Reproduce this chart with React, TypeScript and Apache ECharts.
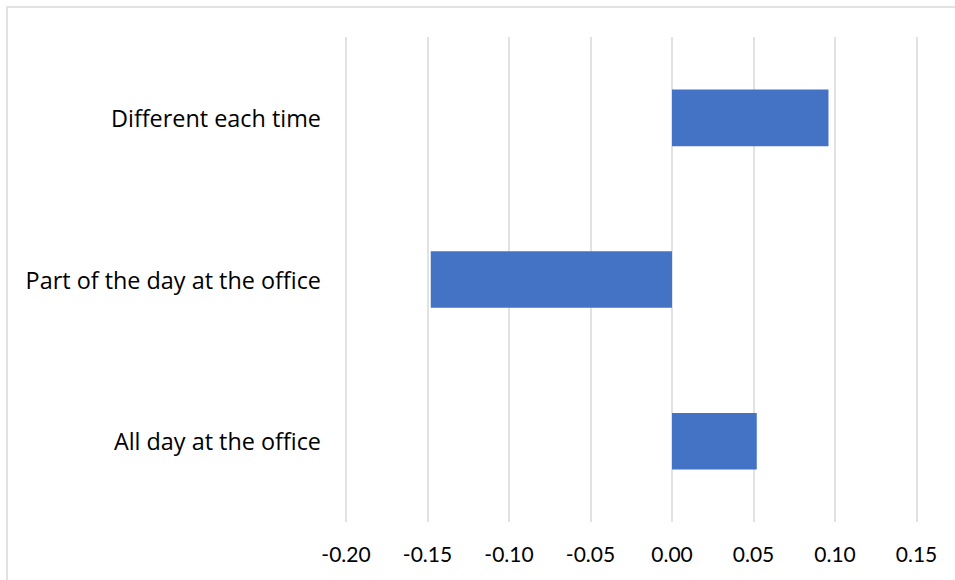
import React, { useEffect, useRef } from "react";
import * as echarts from "echarts";

const categories = ["All day at the office", "Part of the day at the office", "Different each time"];
const values = [0.052, -0.148, 0.096];
const xMin = -0.2;
const xMax = 0.15;
const xStep = 0.05;

export default function App() {
  const ref = useRef<HTMLDivElement>(null);
  useEffect(() => {
    if (!ref.current) return;
    const chart = echarts.init(ref.current, undefined, { renderer: "svg" });
    chart.setOption({
      animation: false,
      backgroundColor: "#ffffff",
      textStyle: { fontFamily: "Lato" },
      graphic: [
        {
          type: "rect",
          shape: { x: 7, y: 7, width: 960, height: 590 },
          style: { fill: "none", stroke: "#d9d9d9", lineWidth: 1.5 },
          silent: true,
        },
      ],
      grid: { left: 346, right: 955 - 916.5, top: 37, bottom: 580 - 522, containLabel: false },
      xAxis: {
        type: "value",
        min: xMin,
        max: xMax,
        interval: xStep,
        axisLine: { show: false },
        axisTick: { show: false },
        splitLine: { show: true, lineStyle: { color: "#d9d9d9", width: 1.5 } },
        axisLabel: {
          color: "#000000",
          fontSize: 21,
          fontFamily: "Lato",
          margin: 21,
          formatter: (v: number) => v.toFixed(2),
        },
      },
      yAxis: {
        type: "category",
        data: categories,
        axisLine: { show: false },
        axisTick: { show: false },
        axisLabel: { color: "#000000", fontSize: 23.4, fontFamily: "Open Sans", margin: 25, padding: [0, 0, 3, 0] },
      },
      series: [
        {
          type: "bar",
          data: values,
          barWidth: "35%",
          itemStyle: { color: "#4472C4" },
        },
      ],
    });
    return () => chart.dispose();
  }, []);
  return <div ref={ref} style={{ position: "fixed", left: 0, top: 0, width: 955, height: 580 }} />;
}
